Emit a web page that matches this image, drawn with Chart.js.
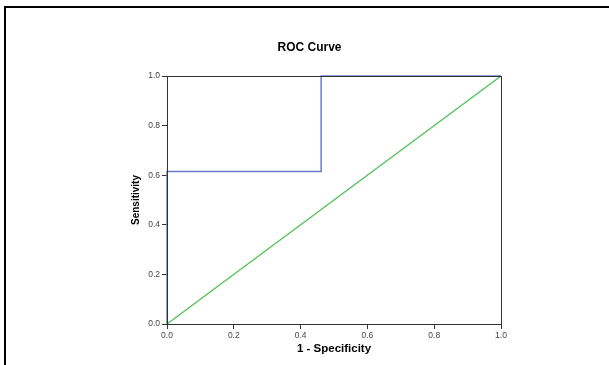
<!DOCTYPE html>
<html>
<head>
<meta charset="utf-8">
<script src="https://cdn.jsdelivr.net/npm/chart.js@4.4.1/dist/chart.umd.min.js"></script>
<style>
  html, body { margin: 0; padding: 0; background: #fff; overflow: hidden; }
  #wrap { position: relative; width: 609px; height: 365px; overflow: hidden; }
  #frame { position: absolute; left: 4px; top: 6px; width: 620px; height: 380px;
           border-left: 2px solid #000; border-top: 2px solid #000; pointer-events: none; }
</style>
</head>
<body>
<div id="wrap">
  <canvas id="roc" width="609" height="365"></canvas>
  <div id="frame"></div>
</div>
<script>
// ROC curve points (1 - specificity, sensitivity)
const curveX = [0, 0, 0.4615, 0.4615, 1];
const curveY = [0, 0.615, 0.615, 1, 1];

// reference (chance) line
const refX = [0, 1];
const refY = [0, 1];

const tickValues = [0, 0.2, 0.4, 0.6, 0.8, 1.0];

function toPoints(xs, ys) {
    return xs.map((x, i) => ({ x: x, y: ys[i] }));
}

// closed box round the plot area, drawn over the lines like the original
const plotBox = {
    id: 'plotBox',
    afterDatasetsDraw(chart) {
        const a = chart.chartArea;
        const ctx = chart.ctx;
        ctx.save();
        ctx.strokeStyle = '#333';
        ctx.lineWidth = 1;
        ctx.strokeRect(a.left + 0.5, a.top + 0.5, a.right - a.left, a.bottom - a.top);
        ctx.restore();
    }
};

const tickFont = { family: 'Liberation Sans, Arial, sans-serif', size: 8.5 };

function axis(titleText, titleFont, titlePadding, fit) {
    return {
        type: 'linear',
        min: 0,
        max: 1,
        afterBuildTicks: s => { s.ticks = tickValues.map(v => ({ value: v })); },
        ticks: {
            callback: v => Number(v).toFixed(1),
            font: tickFont,
            color: '#444',
            padding: 2
        },
        grid: {
            drawOnChartArea: false,
            drawTicks: true,
            tickLength: 5,
            color: '#333'
        },
        border: { color: '#333', width: 1 },
        title: {
            display: true,
            text: titleText,
            font: titleFont,
            color: '#000',
            padding: titlePadding
        },
        afterFit: fit
    };
}

new Chart(document.getElementById('roc'), {
    type: 'scatter',
    data: {
        datasets: [{
            data: toPoints(curveX, curveY),
            showLine: true,
            borderColor: '#6a7ccc',
            borderWidth: 1.5,
            pointRadius: 0,
            clip: false
        }, {
            data: toPoints(refX, refY),
            showLine: true,
            borderColor: '#52c25a',
            borderWidth: 1.4,
            pointRadius: 0,
            clip: false
        }]
    },
    options: {
        responsive: false,
        animation: false,
        devicePixelRatio: 1,
        layout: { padding: { left: 118, right: 108, top: 0, bottom: 9 } },
        plugins: {
            legend: { display: false },
            tooltip: { enabled: false },
            title: {
                display: true,
                text: 'ROC Curve',
                color: '#000',
                font: { family: 'Liberation Sans, Arial, sans-serif', size: 12, weight: 'bold' },
                padding: { top: 40, bottom: 21.6 }
            }
        },
        scales: {
            x: axis('1 - Specificity',
                { family: 'Liberation Sans, Arial, sans-serif', size: 11.5, weight: 'bold' },
                0, s => { s.height = 32; }),
            y: axis('Sensitivity',
                { family: 'Liberation Sans Narrow, Arial Narrow, sans-serif', size: 10, weight: 'bold' },
                { top: 12, bottom: 0 }, s => { s.width = 49; })
        }
    },
    plugins: [plotBox]
});
</script>
</body>
</html>
